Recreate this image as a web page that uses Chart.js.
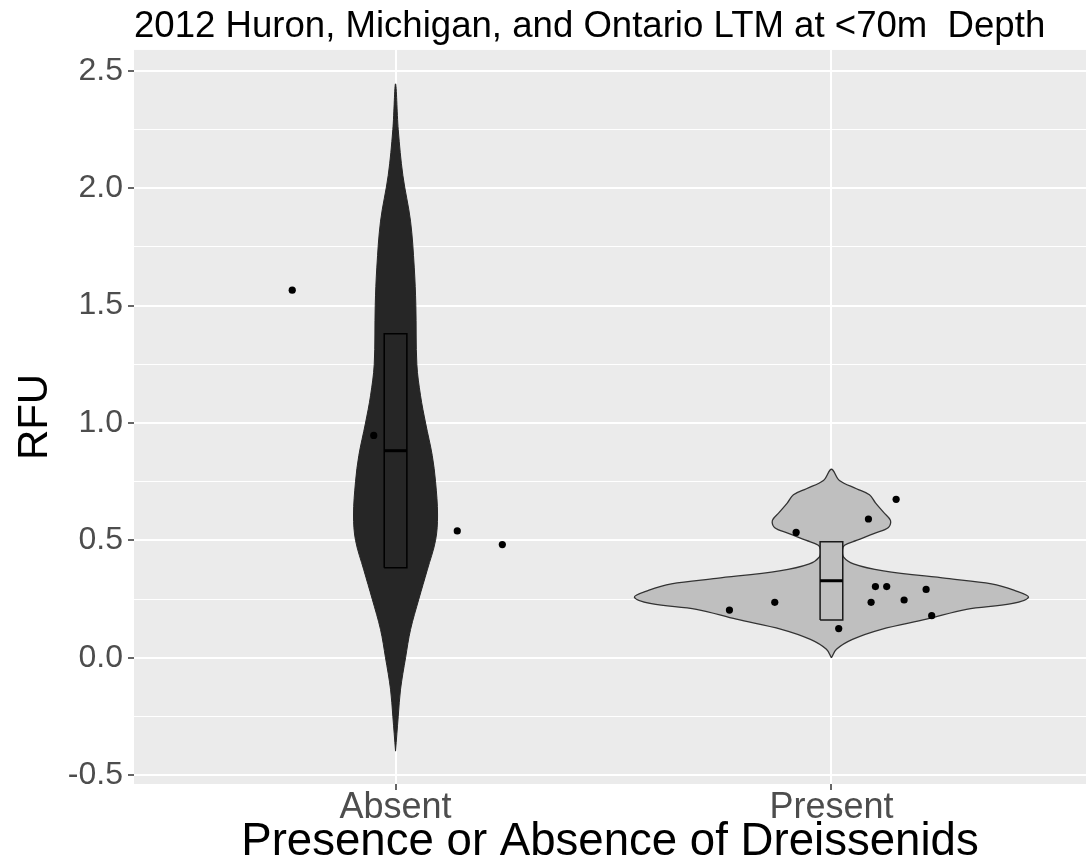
<!DOCTYPE html>
<html>
<head>
<meta charset="utf-8">
<script src="https://cdn.jsdelivr.net/npm/chart.js@4/dist/chart.umd.min.js"></script>
<style>
html,body{margin:0;padding:0;background:#fff;}
#wrap{width:1086px;height:865px;position:relative;}
</style>
</head>
<body>
<div id="wrap"><canvas id="c" width="1086" height="865"></canvas></div>
<script>
// ---------- data ----------
const categories = ['Absent', 'Present'];
const titleText = '2012 Huron, Michigan, and Ontario LTM at <70m  Depth';
const xTitle = 'Presence or Absence of Dreissenids';
const yTitle = 'RFU';

const yMajor = [-0.5, 0, 0.5, 1, 1.5, 2, 2.5];
const yMajorLabels = ['-0.5', '0.0', '0.5', '1.0', '1.5', '2.0', '2.5'];
const yMinor = [-0.25, 0.25, 0.75, 1.25, 1.75, 2.25];

// violin density profiles: value levels and half-widths (in category units)
const absentLevels = [-0.398, -0.25, -0.134, 0, 0.12, 0.25, 0.374, 0.5, 0.608, 0.75, 0.862, 1.0, 1.116, 1.25, 1.5, 1.664, 1.86, 2.055, 2.25, 2.445];
const absentHalfWidth = [0, 0.0062, 0.0115, 0.023, 0.0344, 0.0535, 0.0728, 0.0918, 0.0964, 0.0918, 0.0842, 0.0689, 0.0574, 0.0489, 0.0466, 0.0429, 0.0344, 0.0168, 0.0062, 0];

const presentLevels = [0, 0.036, 0.078, 0.121, 0.164, 0.206, 0.23, 0.258, 0.287, 0.315, 0.338, 0.37, 0.40, 0.43, 0.46, 0.479, 0.50, 0.53, 0.555, 0.585, 0.62, 0.66, 0.694, 0.72, 0.755, 0.803];
const presentHalfWidth = [0, 0.0115, 0.0482, 0.1148, 0.218, 0.3098, 0.4131, 0.4521, 0.42, 0.3672, 0.2639, 0.1193, 0.0505, 0.0275, 0.0252, 0.03, 0.0574, 0.0987, 0.1308, 0.1354, 0.1193, 0.101, 0.0872, 0.0574, 0.0184, 0];

// box statistics [q1, median, q3]
const absentBox = [0.383, 0.882, 1.38];
const presentBox = [0.161, 0.328, 0.494];
const boxHalfWidth = 0.026;

// jittered observations
const absentPointsX = [0.763, 0.950, 1.1416, 1.245];
const absentPointsY = [1.566, 0.947, 0.540, 0.482];
const presentPointsX = [2.1484, 2.0849, 1.919, 2.1009, 2.1268, 2.2172, 1.870, 2.091, 2.1667, 1.766, 2.230, 2.0167];
const presentPointsY = [0.675, 0.591, 0.534, 0.303, 0.303, 0.291, 0.236, 0.236, 0.246, 0.203, 0.179, 0.124];

// ---------- helpers ----------
function violinOutline(center, levels, widths) {
  const pts = [];
  for (let i = 0; i < levels.length; i++) pts.push({x: center + widths[i], y: levels[i]});
  for (let i = levels.length - 2; i >= 1; i--) pts.push({x: center - widths[i], y: levels[i]});
  pts.push({x: center - widths[0], y: levels[0]});
  return pts;
}
function boxOutline(center, stats) {
  return [
    {x: center - boxHalfWidth, y: stats[0]},
    {x: center + boxHalfWidth, y: stats[0]},
    {x: center + boxHalfWidth, y: stats[2]},
    {x: center - boxHalfWidth, y: stats[2]},
    {x: center - boxHalfWidth, y: stats[0]}
  ];
}
function medianLine(center, stats) {
  return [{x: center - boxHalfWidth, y: stats[1]}, {x: center + boxHalfWidth, y: stats[1]}];
}
function zipPoints(xs, ys) { return xs.map((x, i) => ({x: x, y: ys[i]})); }

const darkFill = '#262626';
const lightFill = '#bfbfbf';

const panelBg = {
  id: 'panelBg',
  beforeDraw(chart) {
    const a = chart.chartArea, ctx = chart.ctx;
    ctx.save();
    ctx.fillStyle = '#ebebeb';
    ctx.fillRect(a.left, a.top, a.right - a.left, a.bottom - a.top);
    ctx.restore();
  }
};

const FONT = "'Liberation Sans', Arial, Helvetica, sans-serif";

new Chart(document.getElementById('c'), {
  type: 'line',
  data: {
    datasets: [
      {type: 'scatter', data: zipPoints(absentPointsX, absentPointsY).concat(zipPoints(presentPointsX, presentPointsY)),
       pointRadius: 3.6, pointHoverRadius: 3.6, pointBackgroundColor: '#000', pointBorderWidth: 0, showLine: false, order: 0},
      {data: medianLine(1, absentBox), borderColor: '#000', borderWidth: 3, pointRadius: 0, tension: 0, fill: false, order: 1},
      {data: medianLine(2, presentBox), borderColor: '#000', borderWidth: 3, pointRadius: 0, tension: 0, fill: false, order: 1},
      {data: boxOutline(1, absentBox), borderColor: '#000', borderWidth: 1.5, backgroundColor: darkFill, pointRadius: 0, tension: 0, fill: 'shape', order: 2},
      {data: boxOutline(2, presentBox), borderColor: '#1a1a1a', borderWidth: 1.5, backgroundColor: lightFill, pointRadius: 0, tension: 0, fill: 'shape', order: 2},
      {data: violinOutline(1, absentLevels, absentHalfWidth), borderColor: '#262626', borderWidth: 1, backgroundColor: darkFill, pointRadius: 0, tension: 0.35, fill: 'shape', order: 3},
      {data: violinOutline(2, presentLevels, presentHalfWidth), borderColor: '#333333', borderWidth: 1.3, backgroundColor: lightFill, pointRadius: 0, tension: 0.35, fill: 'shape', order: 3}
    ]
  },
  options: {
    responsive: false,
    animation: false,
    layout: {autoPadding: false, padding: {left: 0, right: 0, top: 0, bottom: 0}},
    plugins: {
      legend: {display: false},
      tooltip: {enabled: false},
      title: {
        display: true, text: titleText, align: 'start', fullSize: false,
        color: '#000', font: {family: FONT, size: 36.6, weight: 'normal', lineHeight: 1.2},
        padding: {top: 5, bottom: 1}
      }
    },
    scales: {
      x: {
        type: 'linear', min: 0.4, max: 2.584,
        afterBuildTicks: (s) => { s.ticks = categories.map((c, i) => ({value: i + 1})); },
        afterFit: (s) => { s.height = 81; },
        ticks: {
          callback: (v) => categories[Math.round(v) - 1] || '',
          color: '#4d4d4d', font: {family: FONT, size: 36}, padding: -4, maxRotation: 0, autoSkip: false
        },
        grid: {color: '#ffffff', lineWidth: 2, drawTicks: true, tickLength: 6, tickColor: '#333333', tickWidth: 1.5},
        border: {display: false},
        title: {display: true, text: xTitle, color: '#000', font: {family: FONT, size: 45.6, lineHeight: 1}, padding: {top: 0, bottom: 0}}
      },
      y: {
        type: 'linear', min: -0.538, max: 2.5895,
        afterBuildTicks: (s) => { s.ticks = yMajor.concat(yMinor).sort((a, b) => a - b).map(v => ({value: v})); },
        afterFit: (s) => { s.width = 134; },
        ticks: {
          callback: (v) => { const i = yMajor.indexOf(v); return i >= 0 ? yMajorLabels[i] : ''; },
          color: '#4d4d4d', font: {family: FONT, size: 32}, padding: 5, autoSkip: false
        },
        grid: {
          color: '#ffffff',
          lineWidth: (ctx) => (ctx.tick && yMajor.indexOf(ctx.tick.value) >= 0) ? 2 : 1,
          drawTicks: true, tickLength: 6,
          tickColor: (ctx) => (ctx.tick && yMajor.indexOf(ctx.tick.value) >= 0) ? '#333333' : 'rgba(0,0,0,0)',
          tickWidth: 1.5
        },
        border: {display: false},
        title: {display: true, text: yTitle, color: '#000', font: {family: FONT, size: 42, lineHeight: 1}, padding: {top: 14, bottom: 0}}
      }
    }
  },
  plugins: [panelBg]
});
</script>
</body>
</html>
